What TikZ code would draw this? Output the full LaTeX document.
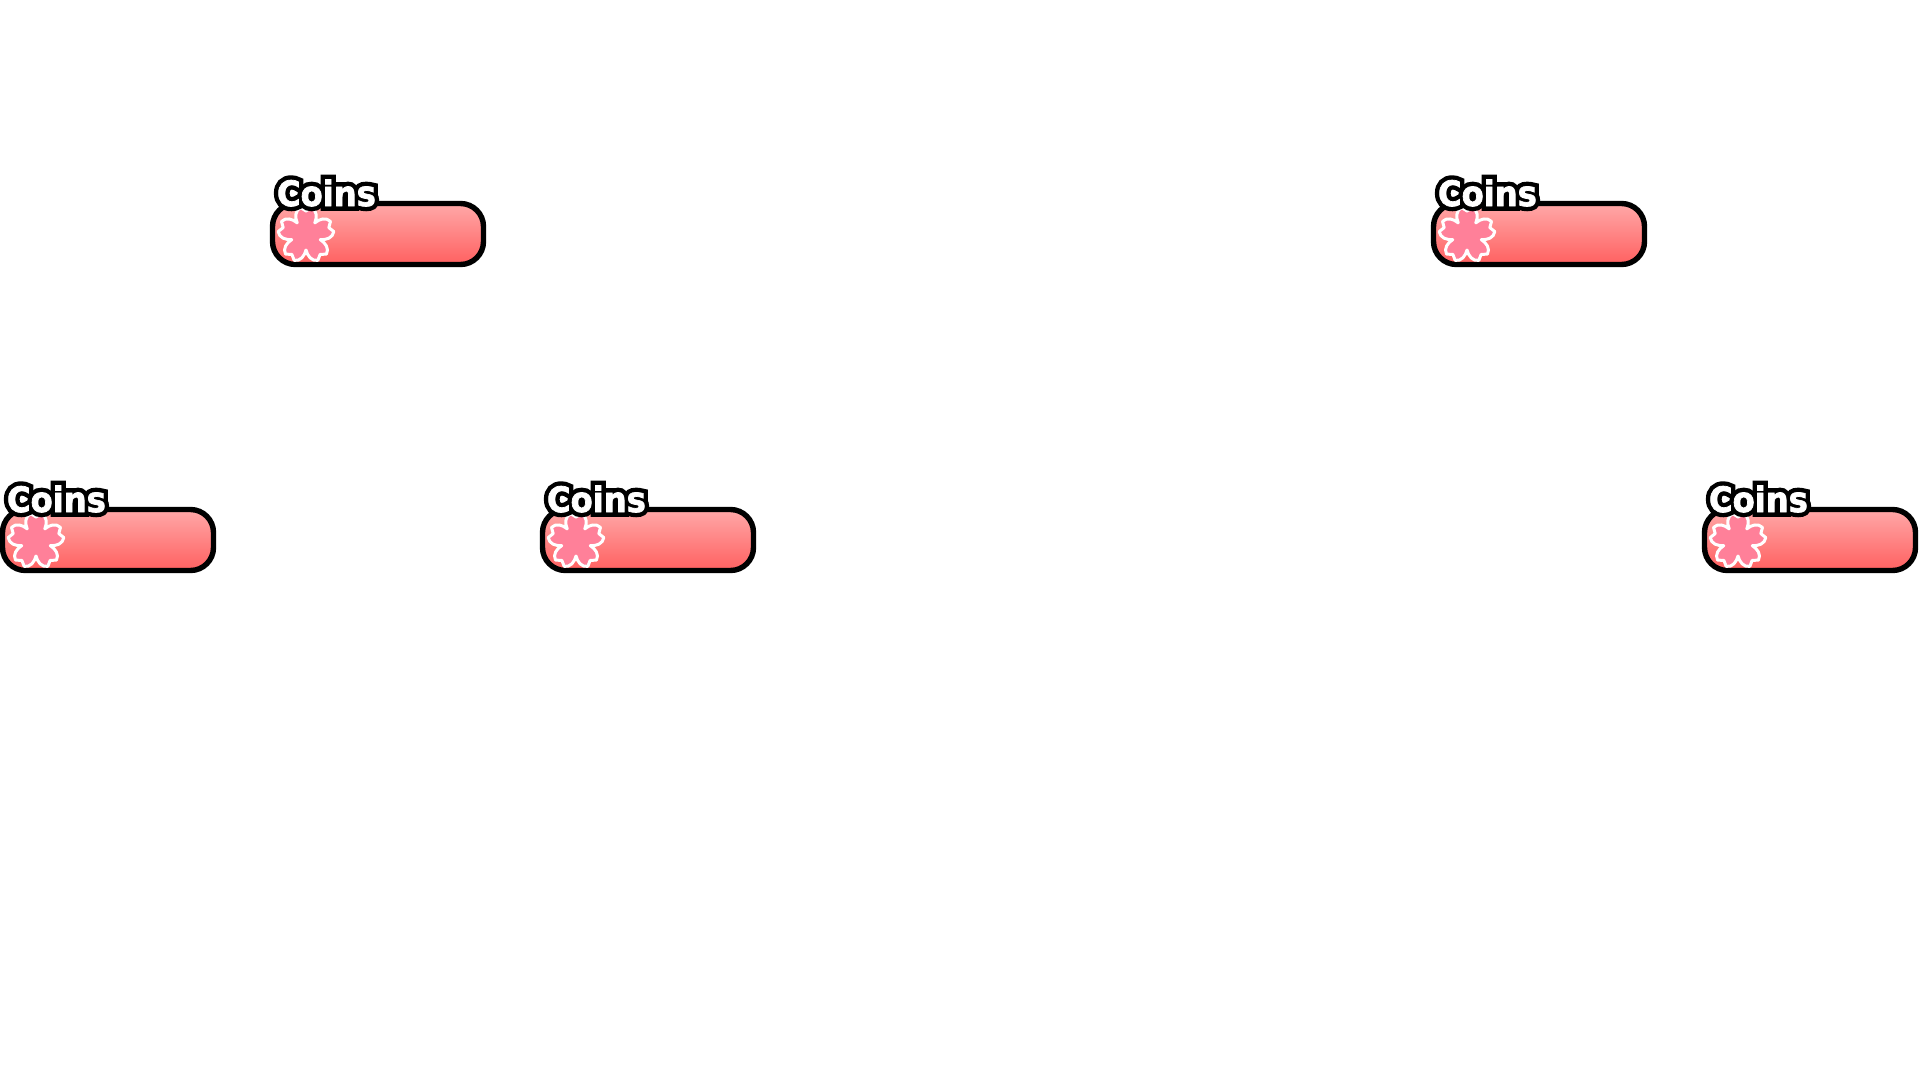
\documentclass[tikz,border=0pt]{standalone}
\usepackage{fontspec}
\newfontfamily\coinfill[FakeBold=2,FakeStretch=0.92]{DejaVu Sans Bold}
\newfontfamily\coinedge[FakeBold=27,FakeStretch=0.92]{DejaVu Sans Bold}
\definecolor{bartop}{HTML}{FFA8A8}
\definecolor{barbot}{HTML}{FF6060}
\definecolor{petal}{HTML}{FF8099}
\tikzset{
  coinbar/.style={draw=black,line width=5.4pt,rounded corners=23pt,top color=bartop,bottom color=barbot,
    minimum width=211pt,minimum height=61pt,inner sep=0pt,outer sep=0pt},
  coinpetal/.style={fill=petal,draw=white,line width=3pt,line join=round},
  coinlabel/.style={inner sep=0pt,outer sep=0pt,anchor=base west,font=\fontsize{35pt}{35pt}\selectfont}
}
\begin{document}
\begin{tikzpicture}[x=1pt,y=-1pt]
\useasboundingbox (0,0) rectangle (1920,1080);
\fill[white] (0,0) rectangle (1920,1080);
\foreach \n/\px/\py in {1/270/201,2/1431/201,3/0/507,4/540/507,5/1702/507} {
  \begin{scope}[shift={(\px,\py)}]
    \node[coinbar] (bar\n) at (108,33) {};
    \path[coinpetal,shift={(36,34)},y=1pt] (54:15)
      .. controls (58:21) and (66:27) .. (79:28) -- (90:24) -- (101:28) .. controls (114:27) and (122:21) .. (126:15)
      .. controls (130:21) and (138:27) .. (151:28) -- (162:24) -- (173:28) .. controls (186:27) and (194:21) .. (198:15)
      .. controls (202:21) and (210:27) .. (223:28) -- (234:24) -- (245:28) .. controls (258:27) and (266:21) .. (270:15)
      .. controls (274:21) and (282:27) .. (295:28) -- (306:24) -- (317:28) .. controls (330:27) and (338:21) .. (342:15)
      .. controls (346:21) and (354:27) .. (367:28) -- (378:24) -- (389:28) .. controls (402:27) and (410:21) .. (414:15)
      -- cycle;
    \node[coinlabel] (label\n) at (7,5) {\rlap{\coinedge\color{black}Coins}\coinfill\color{white}Coins};
  \end{scope}
}
\end{tikzpicture}
\end{document}
